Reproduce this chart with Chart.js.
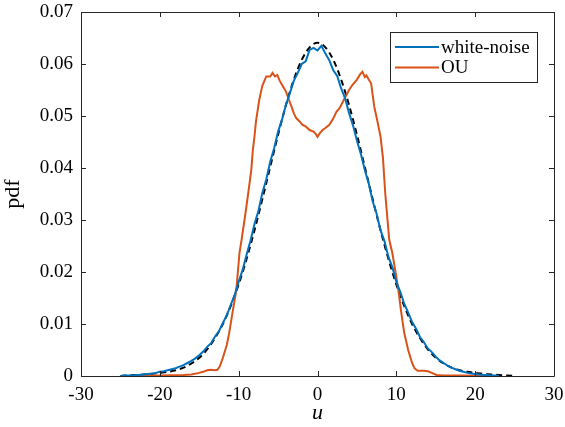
<!DOCTYPE html>
<html>
<head>
<meta charset="utf-8">
<script src="https://cdn.jsdelivr.net/npm/chart.js@4/dist/chart.umd.min.js"></script>
<style>
  html, body { margin: 0; padding: 0; background: #fff; }
  #wrap { width: 565px; height: 427px; }
</style>
</head>
<body>
<div id="wrap"><canvas id="pdfChart" width="565" height="427"></canvas></div>
<script>
// Data
const xTicks = [-30, -20, -10, 0, 10, 20, 30];
const yTicks = [0, 0.01, 0.02, 0.03, 0.04, 0.05, 0.06, 0.07];

// white-noise histogram pdf
const uWhite = [
  -25, -24.5, -24, -23.5, -23, -22.5, -22, -21.5, -21, -20.5,
  -20, -19.5, -19, -18.5, -18, -17.5, -17, -16.5, -16, -15.5,
  -15, -14.5, -14, -13.5, -13, -12.5, -12, -11.5, -11, -10.5,
  -10, -9.5, -9, -8.5, -8, -7.5, -7, -6.5, -6, -5.5,
  -5, -4.5, -4, -3.5, -3, -2.5, -2, -1.5, -1, -0.5,
  0, 0.5, 1, 1.5, 2, 2.5, 3, 3.5, 4, 4.5,
  5, 5.5, 6, 6.5, 7, 7.5, 8, 8.5, 9, 9.5,
  10, 10.5, 11, 11.5, 12, 12.5, 13, 13.5, 14, 14.5,
  15, 15.5, 16, 16.5, 17, 17.5, 18, 18.5, 19, 19.5,
  20, 20.5, 21, 21.5, 22, 22.5, 23
];
const pdfWhite = [
  0, 0.0001, 0.0001, 0.0001, 0.0002, 0.0002, 0.0003, 0.0004, 0.0005, 0.0006,
  0.0008, 0.0009, 0.0011, 0.0013, 0.0015, 0.0018, 0.0021, 0.0025, 0.0029, 0.0034,
  0.0040, 0.0047, 0.0056, 0.0063, 0.0076, 0.0086, 0.0102, 0.0117, 0.0137, 0.0156,
  0.0181, 0.0204, 0.0233, 0.0260, 0.0292, 0.0317, 0.0352, 0.0378, 0.0412, 0.0438,
  0.0470, 0.0493, 0.0522, 0.0544, 0.0568, 0.0583, 0.0600, 0.0605, 0.0627, 0.0631,
  0.0626, 0.0635, 0.0620, 0.0607, 0.0588, 0.0577, 0.0553, 0.0534, 0.0506, 0.0482,
  0.0453, 0.0427, 0.0396, 0.0370, 0.0336, 0.0312, 0.0280, 0.0259, 0.0229, 0.0209,
  0.0181, 0.0162, 0.0139, 0.0122, 0.0104, 0.0091, 0.0075, 0.0065, 0.0053, 0.0046,
  0.0037, 0.0030, 0.0025, 0.0020, 0.0016, 0.0013, 0.0010, 0.0008, 0.0006, 0.0005,
  0.0004, 0.0003, 0.0002, 0.0002, 0.0001, 0.0001, 0
];

// OU forcing histogram pdf (bimodal)
const uOU = [
  -24, -20, -17, -16, -15, -14.5, -14, -13.5, -13, -12.7,
  -12.4, -12, -11.5, -11.2, -10.8, -10.3, -9.9, -9.6, -9.26, -8.8,
  -8.4, -8.2, -8.0, -7.8, -7.4, -7.0, -6.5, -6.0, -5.7, -5.4,
  -5.1, -4.8, -4.5, -4.0, -3.6, -3.3, -3.0, -2.7, -2.3, -1.9,
  -1.5, -1.0, -0.5, -0.2, 0, 0.3, 0.65, 1.0, 1.5, 2.0,
  2.4, 2.8, 3.2, 3.55, 4.0, 4.45, 5.0, 5.4, 5.7, 6.0,
  6.2, 6.5, 6.8, 7.2, 7.6, 8.0, 8.3, 8.6, 9.1, 9.5,
  10.2, 10.6, 11.0, 11.5, 12.0, 12.3, 12.7, 13.5, 14.0, 14.5,
  15.1, 16, 18, 23
];
const pdfOU = [
  0, 0.0001, 0.0002, 0.0003, 0.0006, 0.0008, 0.0011, 0.0012, 0.0011, 0.0012,
  0.0018, 0.0035, 0.0060, 0.0083, 0.0120, 0.0165, 0.0236, 0.0265, 0.0300, 0.0350,
  0.0396, 0.0435, 0.0460, 0.0490, 0.0530, 0.0558, 0.0576, 0.0576, 0.0583, 0.0576,
  0.0579, 0.0568, 0.0560, 0.0547, 0.0530, 0.0518, 0.0505, 0.0496, 0.0490, 0.0483,
  0.0480, 0.0473, 0.0470, 0.0465, 0.0460, 0.0467, 0.0473, 0.0477, 0.0483, 0.0495,
  0.0508, 0.0515, 0.0527, 0.0537, 0.0550, 0.0560, 0.0570, 0.0580, 0.0585, 0.0575,
  0.0578, 0.0570, 0.0563, 0.0518, 0.0490, 0.0460, 0.0420, 0.0350, 0.0262, 0.0236,
  0.0172, 0.0125, 0.0083, 0.0050, 0.0025, 0.0015, 0.0010, 0.0010, 0.0009, 0.0006,
  0.0002, 0.0001, 0.0001, 0
];

// reference Gaussian (dashed)
const uGauss = [
  -25, -24, -23, -22, -21, -20, -19, -18, -17, -16,
  -15, -14, -13, -12, -11, -10, -9, -8, -7, -6,
  -5, -4, -3, -2, -1, 0, 1, 2, 3, 4,
  5, 6, 7, 8, 9, 10, 11, 12, 13, 14,
  15, 16, 17, 18, 19, 20, 21, 22, 23, 24, 25
];
const pdfGauss = [
  0, 0.0001, 0.0002, 0.0003, 0.0004, 0.0006, 0.0008, 0.0011, 0.0016, 0.0024,
  0.0035, 0.0051, 0.0073, 0.0100, 0.0135, 0.0176, 0.0225, 0.0280, 0.0340, 0.0402,
  0.0464, 0.0521, 0.0570, 0.0608, 0.0632, 0.0641, 0.0632, 0.0608, 0.0570, 0.0521,
  0.0464, 0.0402, 0.0340, 0.0280, 0.0225, 0.0176, 0.0135, 0.0100, 0.0073, 0.0051,
  0.0035, 0.0024, 0.0016, 0.0011, 0.0008, 0.0006, 0.0004, 0.0003, 0.0002, 0.0001, 0
];

const toPoints = (xs, ys) => xs.map((x, i) => ({ x: x, y: ys[i] }));

const BLUE = '#0072BD';
const ORANGE = '#D95319';
const AXIS = '#262626';
const SERIF = "'Liberation Serif', 'Times New Roman', serif";

// Box frame with inward ticks on all four sides (MATLAB look)
const framePlugin = {
  id: 'frame',
  afterDraw(chart) {
    const { ctx, chartArea: a, scales } = chart;
    ctx.save();
    ctx.strokeStyle = AXIS;
    ctx.lineWidth = 1;
    ctx.beginPath();
    ctx.rect(a.left + 0.5, a.top + 0.5, a.right - a.left, a.bottom - a.top);
    ctx.stroke();
    const len = 5;
    ctx.beginPath();
    xTicks.forEach(v => {
      const px = Math.round(scales.x.getPixelForValue(v)) + 0.5;
      ctx.moveTo(px, a.bottom); ctx.lineTo(px, a.bottom - len);
      ctx.moveTo(px, a.top); ctx.lineTo(px, a.top + len);
    });
    yTicks.forEach(v => {
      const py = Math.round(scales.y.getPixelForValue(v)) + 0.5;
      ctx.moveTo(a.left, py); ctx.lineTo(a.left + len, py);
      ctx.moveTo(a.right, py); ctx.lineTo(a.right - len, py);
    });
    ctx.stroke();

    // legend box, only the two labelled series
    const bx = 390.5, by = 32.5, bw = 147, bh = 50;
    ctx.fillStyle = '#fff';
    ctx.fillRect(bx, by, bw, bh);
    ctx.strokeStyle = AXIS;
    ctx.strokeRect(bx, by, bw, bh);
    ctx.font = '19px ' + SERIF;
    ctx.textBaseline = 'middle';
    ctx.textAlign = 'left';
    const rows = chart.data.datasets.filter(d => d.inLegend);
    rows.forEach((d, i) => {
      const y = 47 + i * 20.5;
      ctx.strokeStyle = d.borderColor;
      ctx.lineWidth = 2;
      ctx.beginPath();
      ctx.moveTo(395, y); ctx.lineTo(439, y);
      ctx.stroke();
      ctx.fillStyle = '#000';
      ctx.fillText(d.label, 441, y + 1);
    });
    ctx.restore();
  }
};

new Chart(document.getElementById('pdfChart'), {
  type: 'line',
  data: {
    datasets: [
      {
        label: 'white-noise',
        inLegend: true,
        data: toPoints(uWhite, pdfWhite),
        borderColor: BLUE,
        borderWidth: 2,
        pointRadius: 0,
        tension: 0
      },
      {
        label: 'OU',
        inLegend: true,
        data: toPoints(uOU, pdfOU),
        borderColor: ORANGE,
        borderWidth: 2,
        pointRadius: 0,
        tension: 0
      },
      {
        label: 'Gaussian',
        inLegend: false,
        data: toPoints(uGauss, pdfGauss),
        borderColor: '#000',
        borderWidth: 2,
        borderDash: [6, 4],
        pointRadius: 0,
        cubicInterpolationMode: 'monotone'
      }
    ]
  },
  options: {
    responsive: false,
    animation: false,
    devicePixelRatio: 1,
    layout: { padding: { left: 0, right: 11, top: 12, bottom: 0 } },
    plugins: {
      legend: { display: false },
      tooltip: { enabled: false }
    },
    scales: {
      x: {
        type: 'linear',
        min: -30,
        max: 30,
        afterBuildTicks: (s) => { s.ticks = xTicks.map(v => ({ value: v })); },
        afterFit: (s) => { s.height = 51; s.paddingLeft = 0; s.paddingRight = 0; },
        grid: { display: false, drawTicks: false },
        border: { display: false },
        ticks: {
          color: '#000',
          padding: 8,
          font: { family: SERIF, size: 19 },
          maxRotation: 0,
          callback: (v) => String(v)
        },
        title: {
          display: true,
          text: 'u',
          color: '#000',
          padding: { top: 0, bottom: 1 },
          font: { family: SERIF, size: 22, style: 'italic' }
        }
      },
      y: {
        min: 0,
        max: 0.07,
        afterBuildTicks: (s) => { s.ticks = yTicks.map(v => ({ value: v })); },
        afterFit: (s) => { s.width = 81; s.paddingTop = 0; s.paddingBottom = 0; },
        grid: { display: false, drawTicks: false },
        border: { display: false },
        ticks: {
          color: '#000',
          padding: 8,
          font: { family: SERIF, size: 19 },
          callback: (v) => (v === 0 ? '0' : v.toFixed(2))
        },
        title: {
          display: true,
          text: 'pdf',
          color: '#000',
          padding: { top: 0, bottom: 2 },
          font: { family: SERIF, size: 22 }
        }
      }
    }
  },
  plugins: [framePlugin]
});
</script>
</body>
</html>
